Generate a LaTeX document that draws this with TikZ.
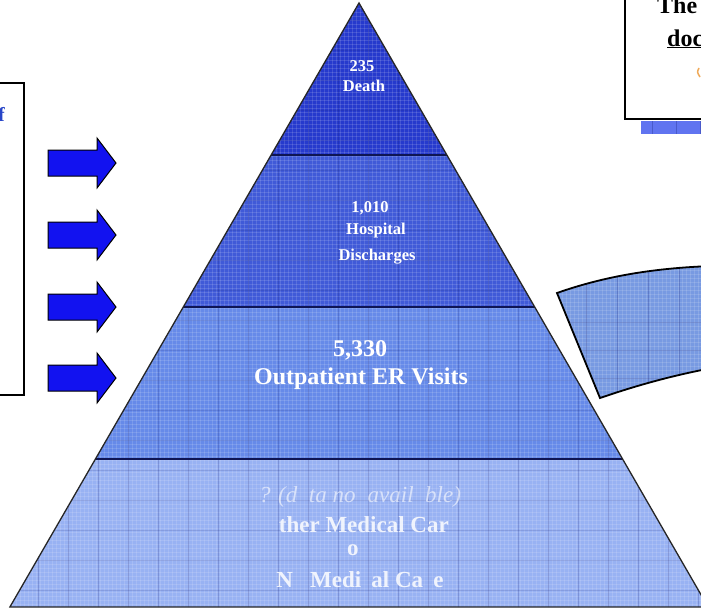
\documentclass[tikz,border=0pt]{standalone}
\usepackage{fontspec}
\setmainfont{Liberation Serif}
\definecolor{cA}{RGB}{38,58,205}
\definecolor{cB}{RGB}{64,90,216}
\definecolor{cC}{RGB}{102,138,233}
\definecolor{cD}{RGB}{152,178,243}
\definecolor{cShape}{RGB}{120,154,226}
\definecolor{cArrow}{RGB}{18,18,240}
\definecolor{cStrip}{RGB}{96,116,240}
\definecolor{cGridDark}{RGB}{20,30,120}
\definecolor{cLeftTxt}{RGB}{40,70,200}
\definecolor{cOrange}{RGB}{240,170,90}
\begin{document}
\begin{tikzpicture}[x=1pt,y=-1pt,
  lblS/.style={text=white,font=\bfseries\fontsize{16.5}{19}\selectfont,inner sep=0pt},
  lblM/.style={text=white,font=\bfseries\fontsize{24}{28}\selectfont,inner sep=0pt},
  lblL/.style={text=white,text opacity=0.85,font=\bfseries\fontsize{23}{27}\selectfont,inner sep=0pt},
  lblI/.style={text=white,text opacity=0.6,font=\itshape\fontsize{23}{27}\selectfont,inner sep=0pt},
  sepline/.style={line width=2pt,draw=cGridDark!70!black},
  blockarrow/.style={draw=black,line width=1pt,fill=cArrow,line join=miter},
  boxline/.style={draw=black,line width=1.6pt}]
\useasboundingbox (0,0) rectangle (701,611);
\fill[white] (0,0) rectangle (701,611);

% pyramid corners
\coordinate (A) at (359,3);
\coordinate (L1) at (271.1,155); \coordinate (R1) at (446.9,155);
\coordinate (L2) at (183.3,307); \coordinate (R2) at (534.7,307);
\coordinate (L3) at (95.4,459);  \coordinate (R3) at (622.6,459);
\coordinate (L4) at (9.9,607);   \coordinate (R4) at (708.1,607);

\fill[cA] (A) -- (L1) -- (R1) -- cycle;
\fill[cB] (L1) -- (L2) -- (R2) -- (R1) -- cycle;
\fill[cC] (L2) -- (L3) -- (R3) -- (R2) -- cycle;
\fill[cD] (L3) -- (L4) -- (R4) -- (R3) -- cycle;

% grid texture in pyramid
\begin{scope}
  \clip (A) -- (L4) -- (R4) -- cycle;
  \foreach \x in {0,4,...,712} \draw[white,opacity=0.13,line width=0.5pt] (\x,0) -- (\x,611);
  \foreach \y in {0,4,...,612} \draw[white,opacity=0.13,line width=0.5pt] (0,\y) -- (711,\y);
  \foreach \x in {8,38,...,712} \draw[cGridDark,opacity=0.22,line width=0.8pt] (\x,0) -- (\x,611);
  \foreach \y in {20,50,...,612} \draw[cGridDark,opacity=0.15,line width=0.7pt] (0,\y) -- (711,\y);
\end{scope}

\draw[sepline] (L1) -- (R1);
\draw[sepline] (L2) -- (R2);
\draw[sepline] (L3) -- (R3);
\draw[line width=1.3pt,draw=black!85] (A) -- (L4) -- (R4) -- cycle;

% texts
\node[lblS] (t235) at (362,66) {235};
\node[lblS] (tdeath) at (364,86) {Death};
\node[lblS] (t1010) at (370,208) {1,010};
\node[lblS] (thosp) at (376,231) {Hospital};
\node[lblS] (tdisch) at (377,257) {Discharges};
\node[lblM] (t5330) at (360,350) {5,330};
\node[lblM] (toutp) at (361,379) {Outpatient ER Visits};
\node[lblI] (tq) at (360,497) {? (d\phantom{a}ta no\phantom{t} avail\phantom{a}ble)};
\node[lblL] (tother) at (360,525) {\phantom{O}ther Medical Car\phantom{e}};
\node[lblL] (tor) at (358,550) {o\phantom{r}};
\node[lblL] (tno) at (360,580) {N\phantom{o} Medi\phantom{c}al Ca\phantom{r}e};

% arrows
\foreach \yy in {163,235,307,378}
  \draw[blockarrow] (48,\yy-13) -- (97,\yy-13) -- (97,\yy-25) -- (116,\yy)
     -- (97,\yy+25) -- (97,\yy+13) -- (48,\yy+13) -- cycle;

% left box
\draw[boxline] (-5,83) rectangle (24,395);
\node[text=cLeftTxt,font=\bfseries\fontsize{20}{24}\selectfont,anchor=base east,inner sep=0pt] (tf) at (5,121) {f};

% right curved shape
\path[fill=cShape] (557,293) .. controls (605,276) and (655,268) .. (712,266)
   -- (712,368) .. controls (670,376) and (635,386) .. (600,398) -- cycle;
\begin{scope}
  \clip (557,293) .. controls (605,276) and (655,268) .. (712,266)
   -- (712,368) .. controls (670,376) and (635,386) .. (600,398) -- cycle;
  \foreach \x in {550,554,...,712} \draw[white,opacity=0.13,line width=0.5pt] (\x,250) -- (\x,410);
  \foreach \y in {250,254,...,410} \draw[white,opacity=0.13,line width=0.5pt] (540,\y) -- (712,\y);
  \foreach \x in {586,617,...,712} \draw[cGridDark,opacity=0.25,line width=0.8pt] (\x,250) -- (\x,410);
  \foreach \y in {322,350,...,410} \draw[cGridDark,opacity=0.2,line width=0.7pt] (540,\y) -- (712,\y);
\end{scope}
\draw[line width=1.8pt,line join=miter] (712,266) .. controls (655,268) and (605,276) .. (557,293)
   -- (600,398) .. controls (635,386) and (670,376) .. (712,368);

% top right box
\fill[cStrip] (641,121) rectangle (712,134);
\foreach \x in {652,676,700} \draw[cGridDark,opacity=0.3,line width=0.7pt] (\x,121) -- (\x,134);
\draw[boxline,fill=white] (625,-5) rectangle (712,119);
\node[font=\bfseries\fontsize{24}{28}\selectfont,anchor=base west,inner sep=0pt] (tthe) at (657,13) {The};
\node[font=\bfseries\fontsize{24}{28}\selectfont,anchor=base west,inner sep=0pt] (tdoc) at (667,46) {\underline{doc}};
\draw[cOrange,line width=1.5pt] (699,68) .. controls (697,72) .. (700,77);
\end{tikzpicture}
\end{document}
